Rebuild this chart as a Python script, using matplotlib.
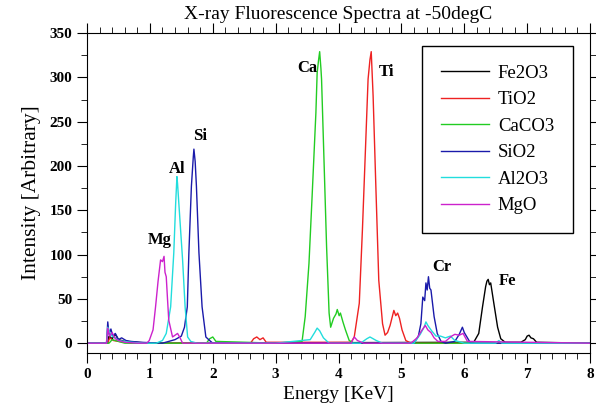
import numpy as np
import matplotlib
matplotlib.use("Agg")
import matplotlib.pyplot as plt
from matplotlib.ticker import MultipleLocator

plt.rcParams["font.family"] = ["Liberation Serif", "DejaVu Serif"]

# spectra (energy in KeV, intensity)
fe_x = [0, 0.33, 0.35, 0.4, 0.45, 0.5, 0.6, 0.8, 1.0, 6.15, 6.23, 6.29, 6.34, 6.36,
        6.38, 6.40, 6.42, 6.47, 6.53, 6.58, 6.65, 6.9, 6.97, 7.0, 7.03, 7.06, 7.1, 7.15, 8]
fe_y = [0, 0, 8, 5, 10, 4, 2, 1, 0, 1, 11, 41, 64, 70,
        72, 66, 68, 45, 18, 5, 1, 1, 4, 8, 9, 6, 5, 1, 0]

ti_x = [0, 0.33, 0.36, 0.42, 0.5, 0.7, 2.6, 2.65, 2.7, 2.75, 2.8, 2.85, 4.2, 4.25, 4.33,
        4.38, 4.43, 4.47, 4.50, 4.52, 4.55, 4.59, 4.64, 4.70, 4.74, 4.78, 4.82, 4.88,
        4.91, 4.94, 4.97, 5.01, 5.07, 5.15, 8]
ti_y = [0, 0, 6, 3, 2, 0, 0, 5, 7, 4, 6, 1, 1, 7, 45,
        128, 222, 298, 320, 329, 279, 185, 71, 22, 9, 12, 20, 37,
        31, 34, 28, 15, 3, 0, 0]

ca_x = [0, 0.35, 0.4, 0.5, 0.6, 1.9, 1.95, 2.0, 2.05, 3.0, 3.42, 3.47, 3.53, 3.58,
        3.64, 3.66, 3.68, 3.70, 3.72, 3.73, 3.77, 3.81, 3.85, 3.875, 3.92, 3.96, 3.98,
        4.01, 4.03, 4.07, 4.11, 4.17, 4.25, 8]
ca_y = [0, 0, 4, 2, 0, 0, 5, 7, 2, 0, 2, 30, 90, 166,
        260, 305, 318, 329, 310, 298, 204, 109, 34, 18, 28, 33, 38,
        31, 34, 24, 15, 3, 0, 0]

si_x = [0, 0.31, 0.33, 0.35, 0.38, 0.41, 0.45, 0.5, 0.55, 0.62, 0.7, 0.85, 1.2, 1.3,
        1.4, 1.5, 1.55, 1.595, 1.62, 1.66, 1.69, 1.70, 1.72, 1.74, 1.78, 1.83, 1.89,
        1.95, 2.0, 5.2, 5.27, 5.31, 5.34, 5.37, 5.39, 5.41, 5.43, 5.45, 5.47, 5.52,
        5.57, 5.63, 5.7, 5.85, 5.92, 5.97, 6.0, 6.05, 6.1, 8]
si_y = [0, 0, 24, 10, 16, 8, 11, 4, 6, 3, 2, 1, 0, 2,
        4, 8, 18, 41, 102, 177, 210, 219, 205, 177, 102, 41, 7,
        3, 0, 0, 8, 22, 52, 48, 68, 60, 75, 62, 60, 30,
        11, 2, 0, 2, 10, 18, 12, 6, 0, 0]

al_x = [0, 0.31, 0.33, 0.36, 0.4, 0.45, 0.5, 0.6, 0.7, 0.9, 1.1, 1.2, 1.26, 1.33,
        1.38, 1.41, 1.43, 1.44, 1.46, 1.52, 1.56, 1.60, 1.65, 1.75, 3.0, 3.55, 3.62,
        3.66, 3.7, 3.76, 3.85, 4.35, 4.45, 4.5, 4.6, 4.7, 5.2, 5.3, 5.36, 5.39, 5.42,
        5.48, 5.55, 5.62, 5.7, 5.78, 5.85, 6.0, 6.5, 6.55, 6.6, 8]
al_y = [0, 0, 18, 12, 8, 6, 3, 2, 1, 0, 0, 3, 11, 41,
        102, 158, 188, 180, 158, 94, 41, 7, 2, 0, 0, 4, 12,
        17, 14, 6, 0, 0, 5, 7, 3, 0, 0, 10, 18, 24, 20,
        14, 8, 8, 6, 8, 3, 0, 0, 3, 0, 0]

mg_x = [0, 0.31, 0.33, 0.36, 0.4, 0.45, 0.5, 0.6, 0.8, 0.95, 0.99, 1.05, 1.09, 1.13,
        1.17, 1.20, 1.225, 1.24, 1.26, 1.28, 1.30, 1.36, 1.40, 1.44, 1.48, 1.52, 4.2,
        4.25, 4.3, 4.4, 5.15, 5.25, 5.32, 5.38, 5.42, 5.47, 5.52, 5.58, 5.7, 5.8, 5.85,
        5.92, 5.98, 6.05, 8]
mg_y = [0, 0, 17, 8, 12, 5, 3, 1, 0, 0, 3, 15, 41, 70,
        94, 92, 98, 80, 75, 50, 26, 7, 9, 11, 6, 0, 0,
        7, 3, 0, 0, 6, 14, 20, 15, 12, 6, 2, 2, 8, 10,
        9, 11, 2, 0]

series = [
    ("Fe2O3", fe_x, fe_y, "#000000"),
    ("TiO2", ti_x, ti_y, "#ee2222"),
    ("CaCO3", ca_x, ca_y, "#22cc22"),
    ("SiO2", si_x, si_y, "#1a1aaa"),
    ("Al2O3", al_x, al_y, "#22dddd"),
    ("MgO", mg_x, mg_y, "#cc22cc"),
]

peak_names = ["Mg", "Al", "Si", "Ca", "Ti", "Cr", "Fe"]
peak_pos = [(1.15, 117), (1.44, 197), (1.80, 234), (3.50, 310), (4.76, 306), (5.64, 86), (6.68, 70)]

fig = plt.figure(figsize=(5.96, 4.08), dpi=100)
ax = fig.add_axes([0.146, 0.135, 0.844, 0.784])

for name, x, y, c in series:
    ax.plot(x, y, color=c, lw=1.0, label=name)

for name, (px, py) in zip(peak_names, peak_pos):
    ax.text(px, py, name, fontsize=12, fontweight="bold", ha="center", va="center")

ax.set_xlim(0, 8)
ax.set_ylim(-11, 350)
ax.xaxis.set_major_locator(MultipleLocator(1))
ax.xaxis.set_minor_locator(MultipleLocator(0.2))
ax.yaxis.set_major_locator(MultipleLocator(50))
ax.yaxis.set_minor_locator(MultipleLocator(25))
ax.tick_params(which="both", direction="out", top=True, right=True, labelsize=11)
ax.tick_params(which="major", length=7)
ax.tick_params(which="minor", length=4)
for lab in ax.get_xticklabels() + ax.get_yticklabels():
    lab.set_fontweight("bold")

ax.set_title("X-ray Fluorescence Spectra at -50degC", fontsize=14, pad=10)
ax.set_xlabel("Energy [KeV]", fontsize=14)
ax.set_ylabel("Intensity [Arbitrary]", fontsize=15.5, labelpad=6)

leg = ax.legend(loc="upper right", bbox_to_anchor=(0.966, 0.96), borderaxespad=0,
                fontsize=13.5, handlelength=2.6, handletextpad=0.45, labelspacing=0.5,
                borderpad=1.0, fancybox=False, framealpha=1)
leg.get_frame().set_edgecolor("black")
leg.get_frame().set_linewidth(1.0)

fig.savefig("out.png", dpi=100)
